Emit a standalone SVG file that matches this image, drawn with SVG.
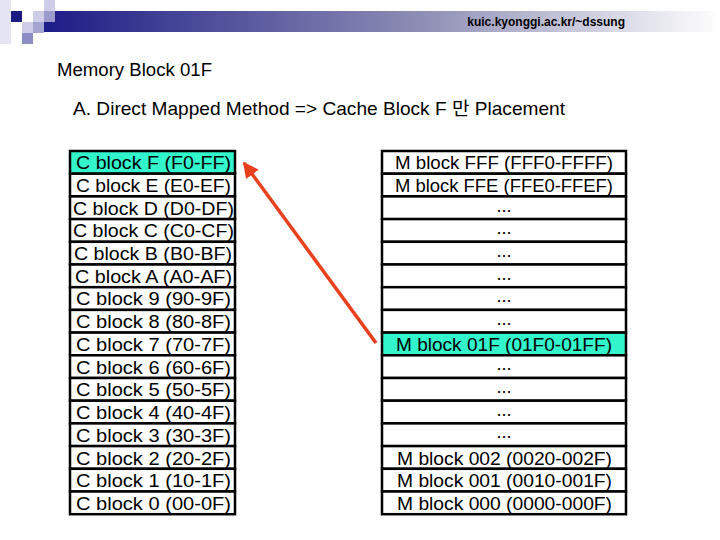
<svg xmlns="http://www.w3.org/2000/svg" width="720" height="540" viewBox="0 0 720 540">
<defs>
<linearGradient id="bar" x1="0" y1="0" x2="1" y2="0">
<stop offset="0" stop-color="#1C1C86"/>
<stop offset="0.55" stop-color="#8C8CB4"/>
<stop offset="1" stop-color="#FFFFFF"/>
</linearGradient>
<marker id="ah" viewBox="0 0 10 10" refX="9" refY="5" markerWidth="4.5" markerHeight="4.5" orient="auto">
<path d="M0,0 L10,5 L0,10 z" fill="#E8401C"/>
</marker>
<style>
.t{font-family:"Liberation Sans","Noto Sans CJK KR",sans-serif;fill:#000}
.cell{fill:#fff;stroke:#000;stroke-width:2.5}
.hi{fill:#33F5CC;stroke:#000;stroke-width:2.5}
.lbl{font-family:"Liberation Sans",sans-serif;font-size:18px;text-anchor:middle;fill:#000}
.c{font-family:"Liberation Sans",sans-serif;font-size:18px;fill:#000}
</style>
</defs>
<rect width="720" height="540" fill="#fff"/>
<g id="header">
<rect x="0" y="0" width="11" height="44" fill="#E4E4F2"/>
<rect x="44" y="11" width="676" height="21" fill="url(#bar)"/>
<rect x="11" y="11" width="11" height="11" fill="#1A1A80"/>
<rect x="33" y="11" width="11" height="11" fill="#CDCDE8"/>
<rect x="44" y="0" width="11" height="11" fill="#CDCDE8"/>
<rect x="44" y="11" width="11" height="11" fill="#9C9CCC"/>
<rect x="22" y="22" width="11" height="11" fill="#CDCDE8"/>
<rect x="33" y="22" width="11" height="11" fill="#A4A4D2"/>
<rect x="22" y="33" width="11" height="11" fill="#8C8CC4"/>
<text class="t" x="625" y="26" font-size="12" font-weight="bold" text-anchor="end">kuic.kyonggi.ac.kr/~dssung</text>
</g>
<text class="t" x="57" y="76" font-size="18" textLength="155" lengthAdjust="spacingAndGlyphs">Memory Block 01F</text>
<text class="t" x="73" y="115" font-size="18.5" textLength="492" lengthAdjust="spacingAndGlyphs">A. Direct Mapped Method =&gt; Cache Block F 만 Placement</text>
<g id="cache">
<rect class="hi" x="70" y="151" width="165" height="22.7"/>
<rect class="cell" x="70" y="173.7" width="165" height="22.7"/>
<rect class="cell" x="70" y="196.4" width="165" height="22.7"/>
<rect class="cell" x="70" y="219.1" width="165" height="22.7"/>
<rect class="cell" x="70" y="241.8" width="165" height="22.7"/>
<rect class="cell" x="70" y="264.5" width="165" height="22.7"/>
<rect class="cell" x="70" y="287.2" width="165" height="22.7"/>
<rect class="cell" x="70" y="309.9" width="165" height="22.7"/>
<rect class="cell" x="70" y="332.6" width="165" height="22.7"/>
<rect class="cell" x="70" y="355.3" width="165" height="22.7"/>
<rect class="cell" x="70" y="378" width="165" height="22.7"/>
<rect class="cell" x="70" y="400.7" width="165" height="22.7"/>
<rect class="cell" x="70" y="423.4" width="165" height="22.7"/>
<rect class="cell" x="70" y="446.1" width="165" height="22.7"/>
<rect class="cell" x="70" y="468.8" width="165" height="22.7"/>
<rect class="cell" x="70" y="491.5" width="165" height="22.7"/>
<text class="c" x="76" y="169" textLength="155" lengthAdjust="spacingAndGlyphs">C block F (F0-FF)</text>
<text class="c" x="76" y="192" textLength="155" lengthAdjust="spacingAndGlyphs">C block E (E0-EF)</text>
<text class="c" x="73" y="215" textLength="161" lengthAdjust="spacingAndGlyphs">C block D (D0-DF)</text>
<text class="c" x="73" y="237" textLength="161" lengthAdjust="spacingAndGlyphs">C block C (C0-CF)</text>
<text class="c" x="74" y="260" textLength="158" lengthAdjust="spacingAndGlyphs">C block B (B0-BF)</text>
<text class="c" x="75" y="283" textLength="157" lengthAdjust="spacingAndGlyphs">C block A (A0-AF)</text>
<text class="c" x="76" y="305" textLength="155" lengthAdjust="spacingAndGlyphs">C block 9 (90-9F)</text>
<text class="c" x="76" y="328" textLength="155" lengthAdjust="spacingAndGlyphs">C block 8 (80-8F)</text>
<text class="c" x="76" y="351" textLength="155" lengthAdjust="spacingAndGlyphs">C block 7 (70-7F)</text>
<text class="c" x="76" y="374" textLength="155" lengthAdjust="spacingAndGlyphs">C block 6 (60-6F)</text>
<text class="c" x="76" y="396" textLength="155" lengthAdjust="spacingAndGlyphs">C block 5 (50-5F)</text>
<text class="c" x="76" y="419" textLength="155" lengthAdjust="spacingAndGlyphs">C block 4 (40-4F)</text>
<text class="c" x="76" y="442" textLength="155" lengthAdjust="spacingAndGlyphs">C block 3 (30-3F)</text>
<text class="c" x="76" y="465" textLength="155" lengthAdjust="spacingAndGlyphs">C block 2 (20-2F)</text>
<text class="c" x="76" y="487" textLength="155" lengthAdjust="spacingAndGlyphs">C block 1 (10-1F)</text>
<text class="c" x="76" y="510" textLength="155" lengthAdjust="spacingAndGlyphs">C block 0 (00-0F)</text>
</g>
<g id="memory">
<rect class="cell" x="382" y="151" width="244" height="22.7"/>
<rect class="cell" x="382" y="173.7" width="244" height="22.7"/>
<rect class="cell" x="382" y="196.4" width="244" height="22.7"/>
<rect class="cell" x="382" y="219.1" width="244" height="22.7"/>
<rect class="cell" x="382" y="241.8" width="244" height="22.7"/>
<rect class="cell" x="382" y="264.5" width="244" height="22.7"/>
<rect class="cell" x="382" y="287.2" width="244" height="22.7"/>
<rect class="cell" x="382" y="309.9" width="244" height="22.7"/>
<rect class="hi" x="382" y="332.6" width="244" height="22.7"/>
<rect class="cell" x="382" y="355.3" width="244" height="22.7"/>
<rect class="cell" x="382" y="378" width="244" height="22.7"/>
<rect class="cell" x="382" y="400.7" width="244" height="22.7"/>
<rect class="cell" x="382" y="423.4" width="244" height="22.7"/>
<rect class="cell" x="382" y="446.1" width="244" height="22.7"/>
<rect class="cell" x="382" y="468.8" width="244" height="22.7"/>
<rect class="cell" x="382" y="491.5" width="244" height="22.7"/>
<text class="c" x="395" y="169" textLength="218" lengthAdjust="spacingAndGlyphs">M block FFF (FFF0-FFFF)</text>
<text class="c" x="395" y="192" textLength="218" lengthAdjust="spacingAndGlyphs">M block FFE (FFE0-FFEF)</text>
<text class="lbl" x="504" y="212">...</text>
<text class="lbl" x="504" y="234">...</text>
<text class="lbl" x="504" y="257">...</text>
<text class="lbl" x="504" y="280">...</text>
<text class="lbl" x="504" y="302">...</text>
<text class="lbl" x="504" y="325">...</text>
<text class="c" x="396" y="351" textLength="216" lengthAdjust="spacingAndGlyphs">M block 01F (01F0-01FF)</text>
<text class="lbl" x="504" y="370">...</text>
<text class="lbl" x="504" y="393">...</text>
<text class="lbl" x="504" y="416">...</text>
<text class="lbl" x="504" y="438">...</text>
<text class="c" x="397" y="465" textLength="215" lengthAdjust="spacingAndGlyphs">M block 002 (0020-002F)</text>
<text class="c" x="397" y="487" textLength="215" lengthAdjust="spacingAndGlyphs">M block 001 (0010-001F)</text>
<text class="c" x="397" y="510" textLength="215" lengthAdjust="spacingAndGlyphs">M block 000 (0000-000F)</text>
</g>
<g id="connectors">
<line x1="376" y1="343" x2="244" y2="163" stroke="#E8401C" stroke-width="3.5" marker-end="url(#ah)"/>
</g>
</svg>
